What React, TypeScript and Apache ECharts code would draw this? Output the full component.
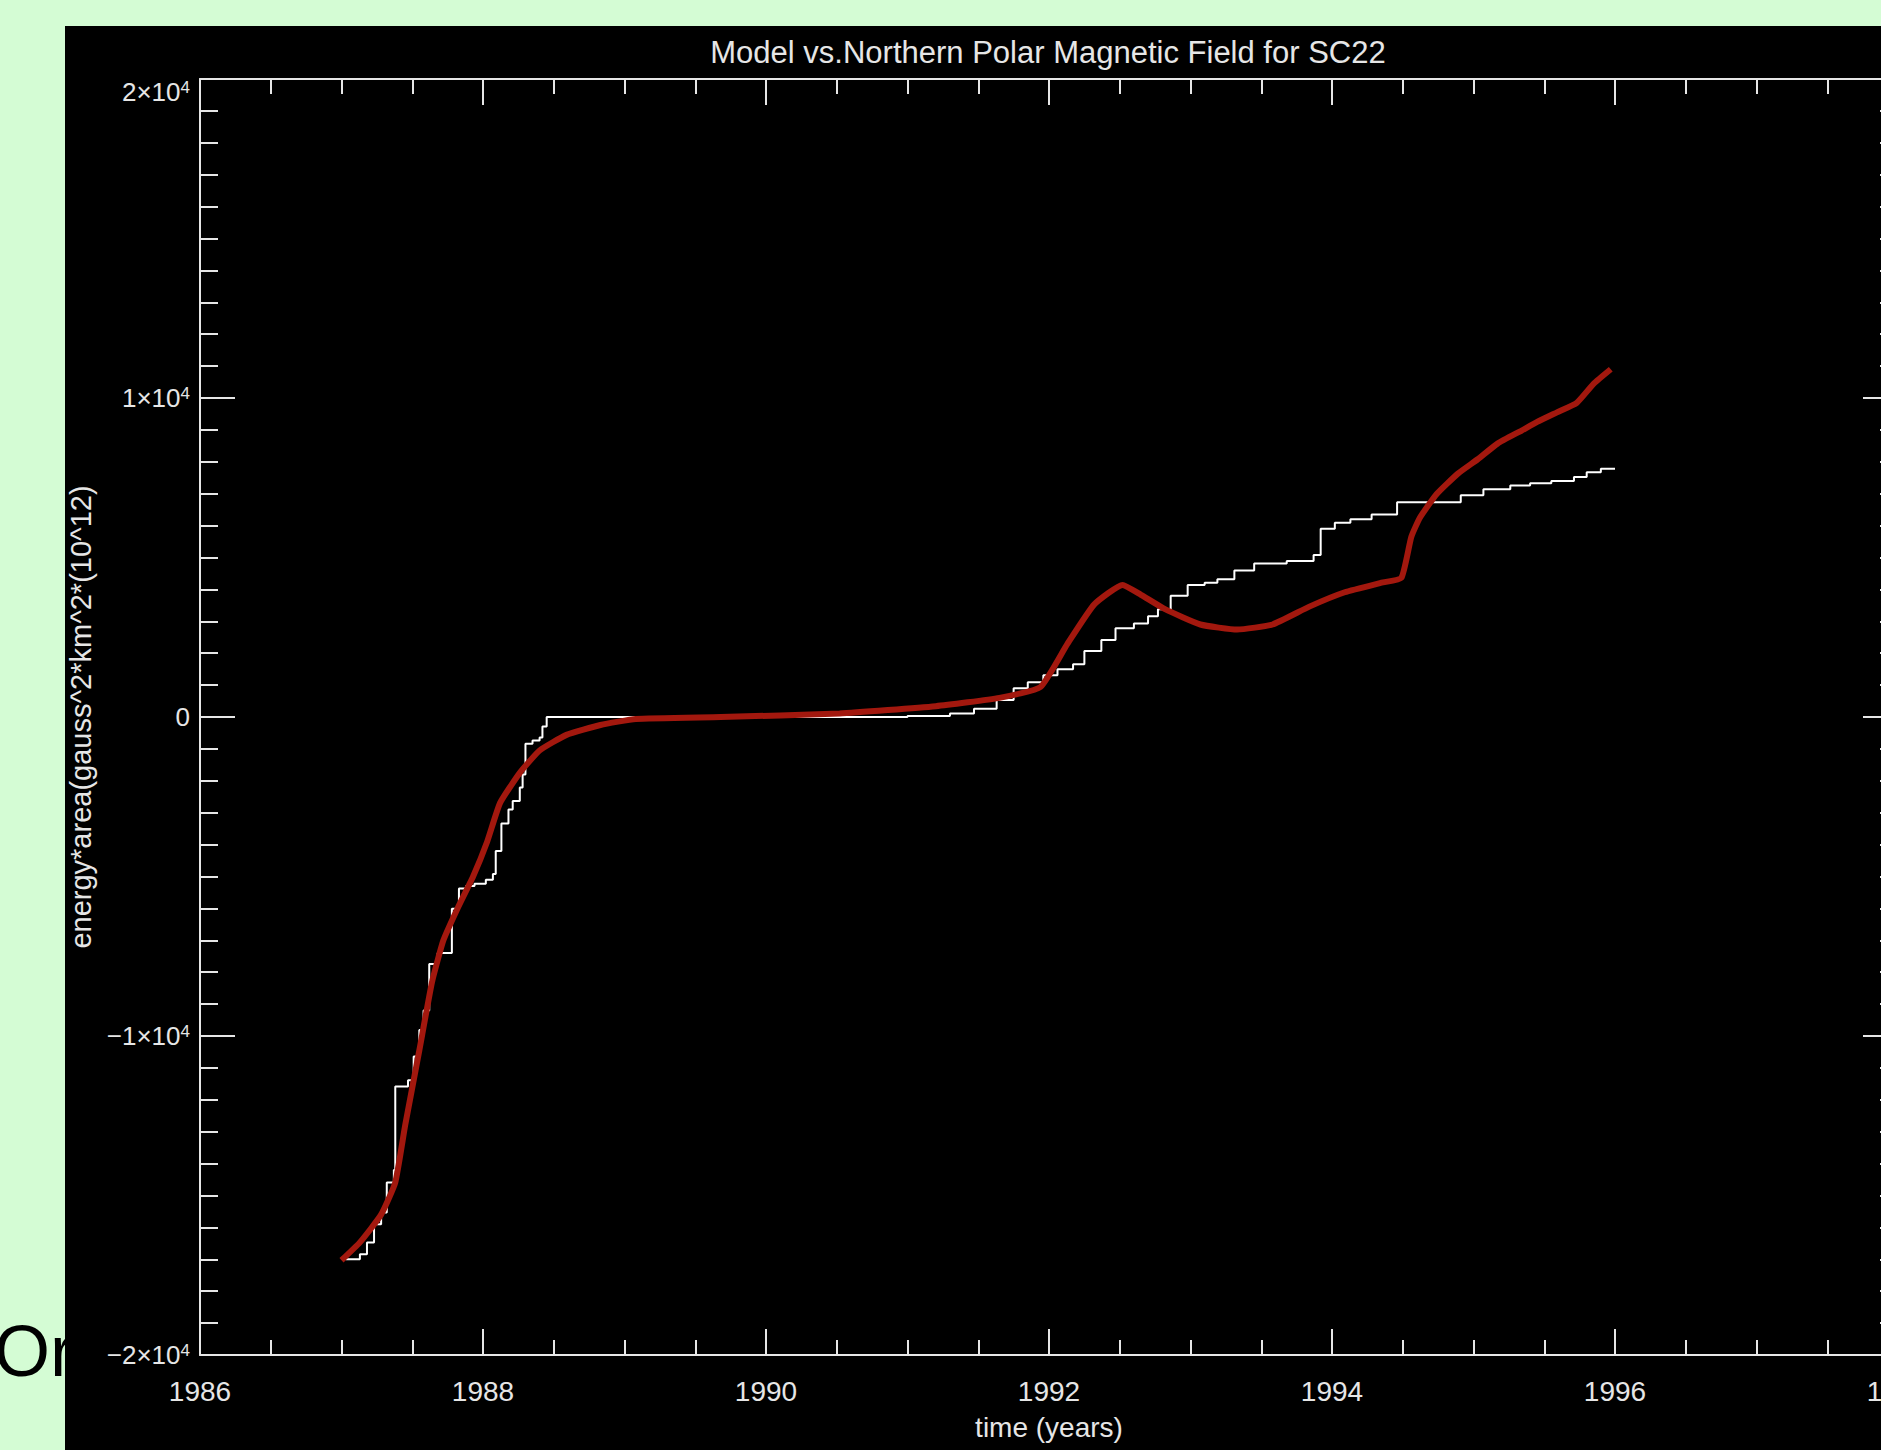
import React, { useEffect, useRef } from "react";
import * as echarts from "echarts";

const titleText = "Model vs.Northern Polar Magnetic Field for SC22";
const xName = "time (years)";
const yName = "energy*area(gauss^2*km^2*(10^12)";

const modelYears = [1987.0, 1987.13, 1987.28, 1987.38, 1987.45, 1987.55, 1987.64, 1987.72, 1987.82, 1987.93, 1988.03, 1988.12, 1988.26, 1988.4, 1988.59, 1988.83, 1989.08, 1989.68, 1990.52, 1991.2, 1991.65, 1991.94, 1992.13, 1992.32, 1992.52, 1992.65, 1992.82, 1993.07, 1993.33, 1993.58, 1993.84, 1994.09, 1994.35, 1994.49, 1994.56, 1994.62, 1994.74, 1994.89, 1995.03, 1995.17, 1995.34, 1995.45, 1995.59, 1995.73, 1995.85, 1995.97];
const modelValues = [-17030, -16470, -15600, -14590, -12800, -10450, -8300, -7000, -6000, -5000, -3900, -2700, -1750, -1050, -560, -250, -60, 0, 110, 340, 600, 940, 2290, 3530, 4140, 3830, 3380, 2900, 2740, 2900, 3460, 3910, 4210, 4360, 5640, 6240, 6990, 7630, 8080, 8570, 8980, 9250, 9550, 9850, 10450, 10900];

const obsYears = [1987.03, 1987.13, 1987.18, 1987.23, 1987.28, 1987.32, 1987.37, 1987.38, 1987.47, 1987.51, 1987.55, 1987.58, 1987.62, 1987.68, 1987.78, 1987.83, 1987.88, 1987.94, 1988.02, 1988.07, 1988.09, 1988.13, 1988.18, 1988.21, 1988.26, 1988.28, 1988.3, 1988.35, 1988.4, 1988.42, 1988.45, 1989.0, 1990.0, 1991.0, 1991.3, 1991.47, 1991.63, 1991.75, 1991.85, 1991.96, 1992.06, 1992.17, 1992.25, 1992.37, 1992.47, 1992.6, 1992.7, 1992.77, 1992.86, 1992.98, 1993.1, 1993.19, 1993.31, 1993.45, 1993.68, 1993.87, 1993.92, 1994.02, 1994.13, 1994.28, 1994.46, 1994.68, 1994.91, 1995.07, 1995.26, 1995.4, 1995.55, 1995.71, 1995.8, 1995.9, 1996.0];
const obsValues = [-17000, -16840, -16470, -15900, -15530, -14590, -14200, -11580, -11390, -10640, -9810, -9200, -7740, -7400, -6010, -5380, -5300, -5230, -5100, -4920, -4200, -3340, -2900, -2630, -2210, -1800, -840, -740, -640, -300, 0, 0, 0, 30, 110, 260, 530, 900, 1090, 1310, 1500, 1650, 2070, 2410, 2780, 2930, 3160, 3380, 3800, 4140, 4210, 4320, 4590, 4810, 4890, 5080, 5900, 6090, 6200, 6350, 6730, 6730, 6950, 7140, 7260, 7330, 7400, 7520, 7670, 7780, 7780];

const xMin = 1986;
const xMax = 1998;
const yMin = -20000;
const yMax = 20000;

const FG = "#e6e6e6";
const FONT = "'Liberation Sans Narrow', 'Liberation Sans', sans-serif";

function yLabel(v: number): string {
  if (v === 0) return "0";
  const m = v / 10000;
  const sign = m < 0 ? "\u2212" : "";
  return `${sign}${Math.abs(m)}\u00d710{s|4}`;
}

export default function App() {
  const ref = useRef<HTMLDivElement>(null);
  useEffect(() => {
    if (!ref.current) return;
    const chart = echarts.init(ref.current, null, { renderer: "svg" });
    const axisCommon = {
      type: "value" as const,
      z: 5,
      axisLine: { show: true, onZero: false, lineStyle: { color: FG, width: 2 } },
      splitLine: { show: false },
      minorSplitLine: { show: false },
    };
    chart.setOption({
      animation: false,
      backgroundColor: "transparent",
      title: {
        text: titleText,
        left: 1048,
        top: 37,
        padding: 0,
        textAlign: "center",
        z: 6,
        textStyle: { color: FG, fontFamily: FONT, fontSize: 31, fontWeight: "normal" },
      },
      graphic: [
        {
          type: "text",
          x: -6,
          y: 1315,
          z: -3,
          style: { text: "Or", fill: "#000", font: "72px 'Liberation Sans', Arial, sans-serif", textVerticalAlign: "alphabetic" },
        },
        {
          type: "rect",
          z: -2,
          shape: { x: 65, y: 26, width: 2000, height: 1500 },
          style: { fill: "#000" },
        },
      ],
      grid: { left: 200, top: 79, right: 102, bottom: 95, outerBoundsMode: "none", containLabel: false },
      xAxis: [
        {
          ...axisCommon,
          position: "bottom",
          min: xMin,
          max: xMax,
          interval: 2,
          axisTick: { show: true, inside: true, length: 26, lineStyle: { color: FG, width: 2 } },
          minorTick: { show: true, splitNumber: 4, length: 15, lineStyle: { color: FG, width: 2 } },
          axisLabel: { show: true, color: FG, fontFamily: FONT, fontSize: 28, margin: 22, formatter: (v: number) => String(v) },
          name: xName,
          nameLocation: "middle",
          nameGap: 58,
          nameTextStyle: { color: FG, fontFamily: FONT, fontSize: 28 },
        },
        {
          ...axisCommon,
          position: "top",
          min: xMin,
          max: xMax,
          interval: 2,
          axisTick: { show: true, inside: true, length: 26, lineStyle: { color: FG, width: 2 } },
          minorTick: { show: true, splitNumber: 4, length: 15, lineStyle: { color: FG, width: 2 } },
          axisLabel: { show: false },
        },
      ],
      yAxis: [
        {
          ...axisCommon,
          position: "left",
          min: yMin,
          max: yMax,
          interval: 10000,
          axisTick: { show: true, inside: true, length: 35, lineStyle: { color: FG, width: 2 } },
          minorTick: { show: true, splitNumber: 10, length: 18, lineStyle: { color: FG, width: 2 } },
          axisLabel: {
            show: true,
            color: FG,
            fontFamily: FONT,
            fontSize: 26,
            margin: 10,
            verticalAlignMaxLabel: "top",
            formatter: yLabel,
            rich: { s: { color: FG, fontFamily: FONT, fontSize: 17, verticalAlign: "top" } },
          },
          name: yName,
          nameLocation: "middle",
          nameRotate: 90,
          nameGap: 98,
          nameTextStyle: { color: FG, fontFamily: FONT, fontSize: 29 },
        },
        {
          ...axisCommon,
          position: "right",
          min: yMin,
          max: yMax,
          interval: 10000,
          axisTick: { show: true, inside: true, length: 35, lineStyle: { color: FG, width: 2 } },
          minorTick: { show: true, splitNumber: 10, length: 18, lineStyle: { color: FG, width: 2 } },
          axisLabel: { show: false },
        },
      ],
      series: [
        {
          type: "line",
          name: "observed",
          xAxisIndex: 0,
          yAxisIndex: 0,
          step: "end",
          showSymbol: false,
          symbol: "none",
          lineStyle: { color: "#ffffff", width: 2 },
          data: obsYears.map((x, i) => [x, obsValues[i]]),
          z: 3,
        },
        {
          type: "line",
          name: "model",
          xAxisIndex: 0,
          yAxisIndex: 0,
          smooth: 0.15,
          showSymbol: false,
          symbol: "none",
          lineStyle: { color: "#a3180e", width: 6 },
          data: modelYears.map((x, i) => [x, modelValues[i]]),
          z: 4,
        },
      ],
    });
    return () => chart.dispose();
  }, []);
  return (
    <div style={{ position: "fixed", left: 0, top: 0, width: 1881, height: 1450, overflow: "hidden", background: "#d4fcd4" }}>
      <div ref={ref} style={{ position: "absolute", left: 0, top: 0, width: 2000, height: 1450 }} />
    </div>
  );
}
